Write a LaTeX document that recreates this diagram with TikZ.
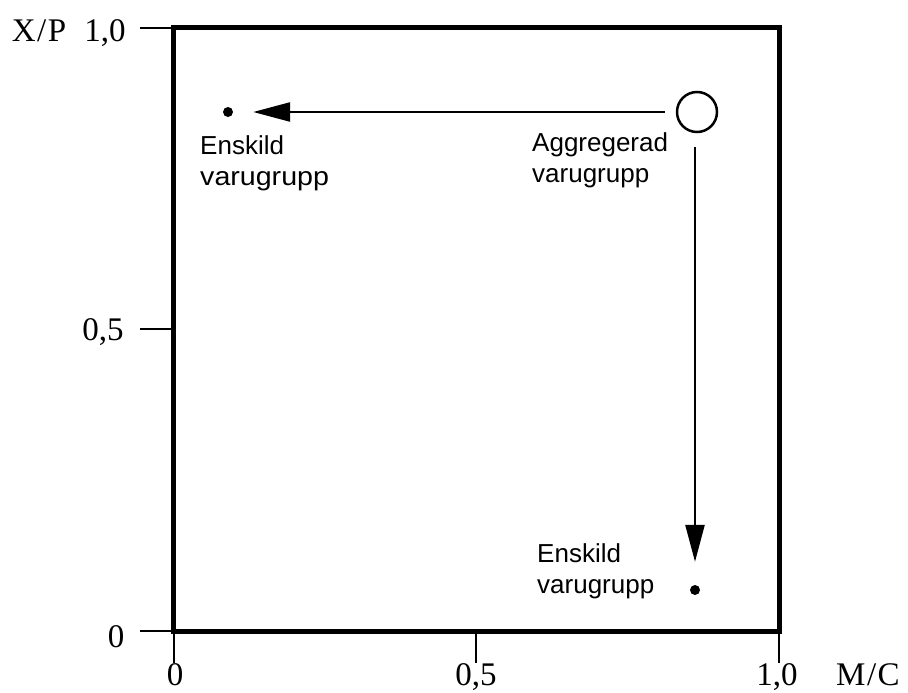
\documentclass[tikz,border=0pt]{standalone}
\usepackage{fontspec}
\setmainfont{Liberation Serif}
\newfontfamily\labelfont{Liberation Sans}
\newfontfamily\widelabelfont[FakeStretch=1.1]{Liberation Sans}
\usetikzlibrary{arrows.meta}
\tikzset{
  frame/.style={line width=5pt, line join=miter},
  axistick/.style={line width=2.5pt},
  axislabel/.style={font=\fontsize{33}{33}\selectfont, inner sep=0pt, anchor=base},
  pointlabel/.style={font=\labelfont\fontsize{26}{31}\selectfont, align=left, inner sep=0pt, anchor=base west},
  dot/.style={circle, fill=black, inner sep=0pt, minimum size=10pt},
  aggcircle/.style={circle, draw=black, line width=2.5pt, inner sep=0pt, minimum size=40pt},
  shiftarrow/.style={line width=2.5pt, -{Triangle[length=37pt, width=19pt]}}
}
\begin{document}
\begin{tikzpicture}[x=1pt, y=-1pt]
  \useasboundingbox (0,0) rectangle (908,693);

  % axis ticks
  \draw[axistick] (140,28) -- (173,28);
  \draw[axistick] (140,329) -- (173,329);
  \draw[axistick] (140,631) -- (173,631);
  \draw[axistick] (174,631) -- (174,663);
  \draw[axistick] (476,631) -- (476,663);
  \draw[axistick] (779,631) -- (779,663);

  % frame
  \draw[frame] (173,28) rectangle (779,631);

  % axis labels
  \node[axislabel] (ylab) at (39,42) {X\kern1.5pt/\kern1.5pt P};
  \node[axislabel] (y10) at (105,42) {1,0};
  \node[axislabel] (y05) at (103,340) {0,5};
  \node[axislabel] (y0) at (116,647) {0};
  \node[axislabel] (x0) at (175,685) {0};
  \node[axislabel] (x05) at (476,685) {0,5};
  \node[axislabel] (x10) at (777,685) {1,0};
  \node[axislabel] (xlab) at (868,685) {M\kern1.5pt/\kern1.5pt C};

  % points
  \node[aggcircle] (agg) at (697,112) {};
  \node[dot] (left) at (228,112) {};
  \node[dot] (bottom) at (695,590) {};

  % shifts from the aggregate to the single groups
  \draw[shiftarrow, shorten <=11pt, shorten >=20pt] (agg) -- (left);
  \draw[shiftarrow, shorten <=14pt, shorten >=23pt] (agg.south -| bottom) -- (bottom);

  % point labels
  \node[pointlabel] (lableft) at (200,185) {Enskild\\{\widelabelfont varugrupp}};
  \node[pointlabel] (labagg) at (532,182) {Aggregerad\\varugrupp};
  \node[pointlabel] (labbottom) at (537,593) {Enskild\\varugrupp};
\end{tikzpicture}
\end{document}
